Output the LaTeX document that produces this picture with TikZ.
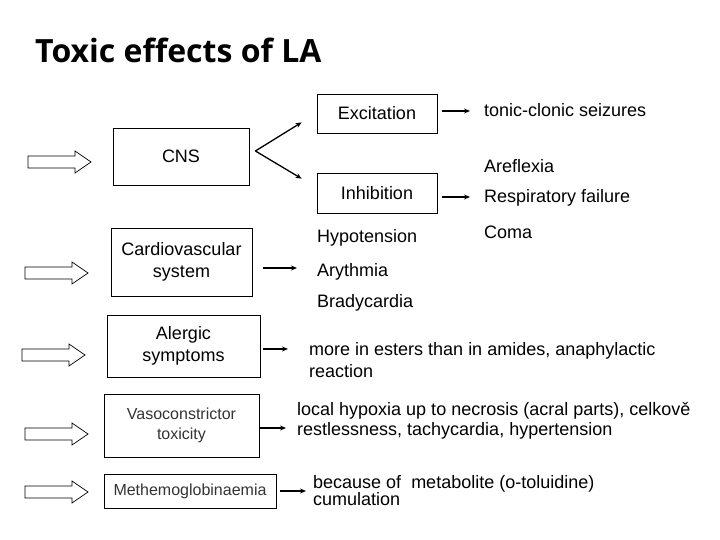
\documentclass[tikz,border=0pt]{standalone}
\usepackage{fontspec}
\setmainfont{Liberation Sans}
\newfontfamily\titlefont{Open Sans}
\usetikzlibrary{arrows.meta}

\tikzset{
  box/.style={draw, line width=0.8pt, align=center, inner sep=0pt,
    font=\fontsize{18}{21.5}\selectfont},
  thinbox/.style={box, text=black!80, font=\fontsize{16}{20}\selectfont},
  txt/.style={anchor=west, inner sep=0pt, align=left,
    font=\fontsize{18}{22}\selectfont},
  conn/.style={line width=1.3pt, -{Stealth[length=6pt,width=5pt]}},
}

\begin{document}
\begin{tikzpicture}[x=1pt,y=-1pt]
\useasboundingbox (0,0) rectangle (720,540);
\node[anchor=west, inner sep=0pt, font=\titlefont\bfseries\fontsize{32}{36}\selectfont] (title) at (35,50) {Toxic effects of LA};

% boxes
\node[box, minimum width=120pt, minimum height=39pt] (exc) at (377,113.5) {Excitation};
\node[box, minimum width=120pt, minimum height=40pt] (inh) at (377,193) {Inhibition};
\node[box, minimum width=136pt, minimum height=57pt] (cns) at (181,156.5) {CNS};
\node[box, minimum width=141pt, minimum height=68pt] (cardio) at (181.5,262) {Cardiovascular\\system};
\node[box, minimum width=153pt, minimum height=62pt] (alerg) at (183.5,346) {Alergic\\symptoms};
\node[thinbox, minimum width=155pt, minimum height=63pt] (vaso) at (181.5,425.5) {Vasoconstrictor\\toxicity};
\node[thinbox, minimum width=172pt, minimum height=34pt] (methb) at (190,491) {Methemoglobinaemia};

% effects
\node[txt] (tonic) at (484,110) {tonic-clonic seizures};
\node[txt] (arefl) at (484,166) {Areflexia};
\node[txt] (resp) at (484,198) {Respiratory failure};
\node[txt] (coma) at (484,232) {Coma};
\node[txt] (hypot) at (317,238) {Hypotension};
\node[txt] (aryth) at (317,272) {Arythmia};
\node[txt] (brady) at (317,303) {Bradycardia};
\node[txt] (ester) at (309,360) {more in esters than in amides, anaphylactic\\reaction};
\node[txt, font=\fontsize{18}{20}\selectfont] (hypox) at (297,421) {local hypoxia up to necrosis (acral parts), celkově\\restlessness, tachycardia, hypertension};
\node[txt, font=\fontsize{18}{17.5}\selectfont] (metab) at (313,490.5) {because of~ metabolite (o-toluidine)\\cumulation};

% CNS fork
\coordinate (fork) at ([xshift=6pt,yshift=5.5pt]cns.east);
\draw[conn] (fork) -- ([xshift=-15pt,yshift=11pt]exc.south west);
\draw[conn] (fork) -- ([xshift=-15pt,yshift=-6pt]inh.north west);

\draw[conn] ([xshift=5pt,yshift=2.5pt]exc.east) -- ([xshift=-14pt,yshift=2.5pt]exc.east -| tonic.west);
\draw[conn] ([xshift=5pt,yshift=-4pt]inh.east) -- ([xshift=-14pt,yshift=-4pt]inh.east -| resp.west);
\draw[conn] ([xshift=11pt,yshift=-6pt]cardio.east) -- ([xshift=-20pt,yshift=-6pt]cardio.east -| aryth.west);
\draw[conn] ([xshift=3pt,yshift=-3pt]alerg.east) -- ([xshift=-21pt,yshift=-3pt]alerg.east -| ester.west);
\draw[conn] ([yshift=-2.5pt]vaso.east) -- ([xshift=-11pt,yshift=-2.5pt]vaso.east -| hypox.west);
\draw[conn] ([xshift=4pt]methb.east) -- ([xshift=-7pt]methb.east -| metab.west);

% hollow arrows
\foreach \x/\y in {28/162, 25/273, 22/355, 25/434, 25/492}
  \draw[line width=0.7pt] (\x,\y-6) -- ++(47,0) -- ++(0,-5) -- ++(16,11)
    -- ++(-16,11) -- ++(0,-5) -- ++(-47,0) -- cycle;
\end{tikzpicture}
\end{document}
